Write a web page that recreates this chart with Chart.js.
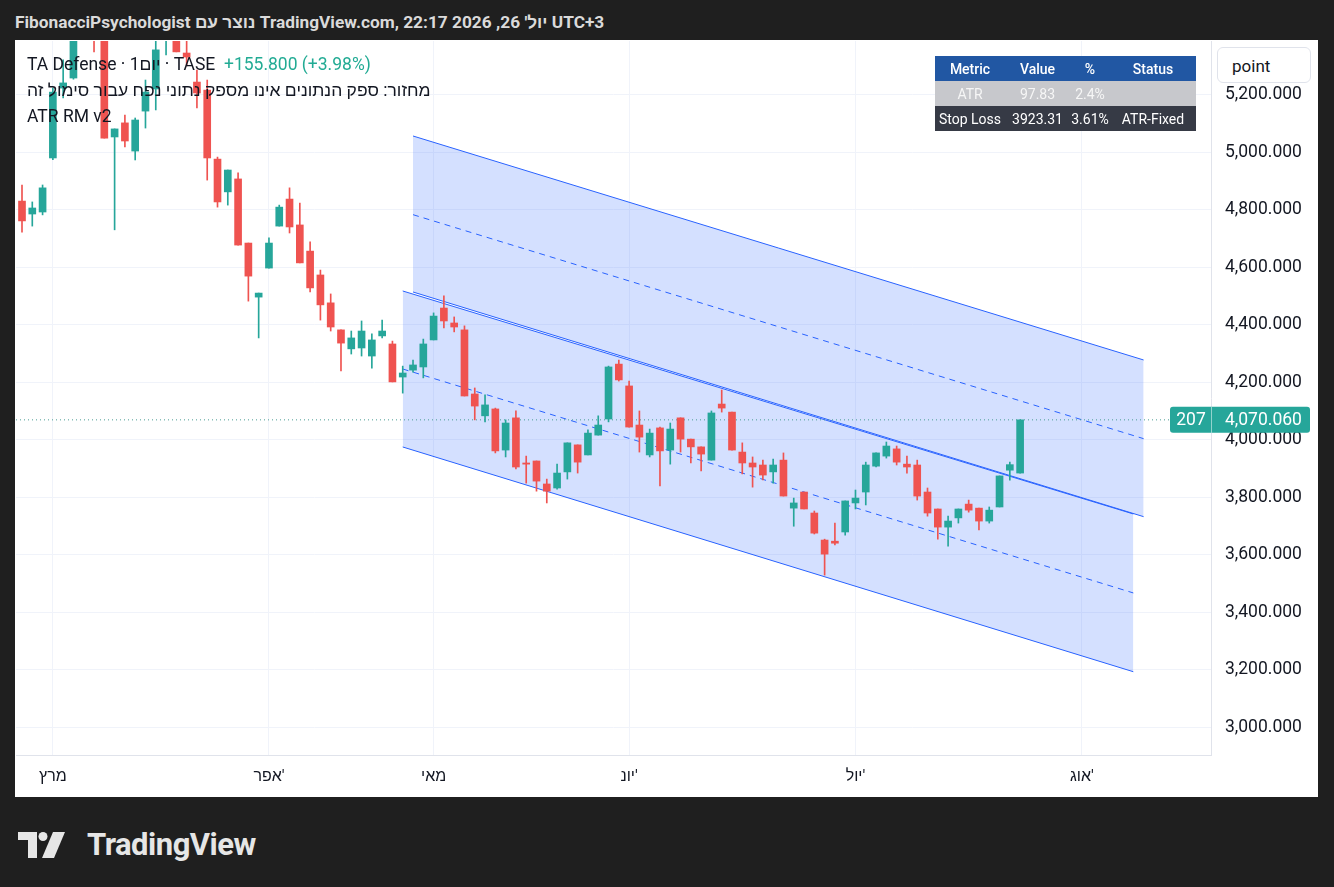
<!DOCTYPE html>
<html lang="he">
<head>
<meta charset="utf-8">
<script src="https://cdn.jsdelivr.net/npm/chart.js@4.4.1/dist/chart.umd.min.js"></script>
<style>
  body { margin: 0; width: 1334px; height: 887px; overflow: hidden; background: #1f1f1f;
         font-family: Roboto, "Liberation Sans", "DejaVu Sans", sans-serif; }
  #header { position: absolute; left: 15px; top: 10px; line-height: 24px; color: #dadada;
            font-size: 17.3px; font-weight: bold; white-space: nowrap; direction: ltr; }
  #panel { position: absolute; left: 15px; top: 40px; width: 1303px; height: 757px; background: #fff; }
  #chart { position: absolute; left: 0; top: 0; }
  .lg { position: absolute; left: 12px; line-height: 24px; font-size: 17.5px; color: #131722;
        white-space: nowrap; direction: ltr; }
  #tbl { position: absolute; left: 920px; top: 16px; border-collapse: collapse; table-layout: fixed;
         font-size: 14px; }
  #tbl td { height: 25px; padding: 0; text-align: center; white-space: nowrap; }
  #tbl tr.h td { background: #2157a3; color: #fff; font-weight: 500; }
  #tbl tr.a td { background: #c7c8cc; color: #f6f6f6; }
  #tbl tr.s td { background: #363a45; color: #fff; }
  #point { position: absolute; left: 1202px; top: 7px; width: 94px; height: 36px; line-height: 36px;
           border: 1px solid #e0e3eb; border-radius: 6px; background: #fff; font-size: 17px;
           color: #131722; padding-left: 14px; box-sizing: border-box; }
  #wm { position: absolute; left: 18px; top: 826px; display: flex; align-items: center; gap: 22px; }
  #wm span { font-size: 31px; font-weight: bold; color: #e6e6e6; letter-spacing: -0.5px; }
</style>
</head>
<body>
<div id="header">FibonacciPsychologist נוצר עם TradingView.com, יול' 26, 2026 22:17 UTC+3</div>
<div id="panel">
  <canvas id="chart" width="1303" height="757"></canvas>
  <div class="lg" style="top:12px">TA Defense · 1יום · TASE&nbsp;&nbsp;<span style="color:#22ab94">+155.800 (+3.98%)</span></div>
  <div class="lg" style="top:38px">מחזור: ספק הנתונים אינו מספק נתוני נפח עבור סימול זה</div>
  <div class="lg" style="top:64px">ATR RM v2</div>
  <table id="tbl">
    <colgroup><col style="width:70px"><col style="width:65px"><col style="width:40px"><col style="width:86px"></colgroup>
    <tr class="h"><td>Metric</td><td>Value</td><td>%</td><td>Status</td></tr>
    <tr class="a"><td>ATR</td><td>97.83</td><td>2.4%</td><td></td></tr>
    <tr class="s"><td>Stop Loss</td><td>3923.31</td><td>3.61%</td><td>ATR-Fixed</td></tr>
  </table>
  <div id="point">point</div>
</div>
<div id="wm">
  <svg width="47" height="26" viewBox="0 0 47 26">
    <path d="M0 0H19V26H10V8H0Z" fill="#e6e6e6"/>
    <circle cx="25" cy="4.5" r="4.5" fill="#e6e6e6"/>
    <path d="M35 0H47L36 26H24Z" fill="#e6e6e6"/>
  </svg>
  <span>TradingView</span>
</div>
<script>
// daily candles, one per trading day (index 0 = first visible bar)
const opens = [
  4831, 4786, 4793, 4981, 5224, 5259, 5420, 5470, 5420, 5054,
  5103, 5005, 5144, 5221, 5400, 5420, 5346, 5245, 5217, 4977,
  4863, 4908, 4685, 4497, 4598, 4744, 4838, 4748, 4657, 4574,
  4477, 4383, 4317, 4320, 4292, 4362, 4334, 4219, 4243, 4254,
  4348, 4459, 4407, 4383, 4160, 4084, 4108, 3965, 4077, 3920,
  3927, 3847, 3833, 3889, 3983, 3948, 4017, 4073, 4264, 4188,
  4052, 3948, 4042, 3965, 4077, 4003, 3976, 3930, 4125, 4097,
  3958, 3920, 3913, 3889, 3930, 3763, 3819, 3746, 3652, 3648,
  3680, 3781, 3819, 3909, 3944, 3969, 3916, 3913, 3819, 3760,
  3697, 3729, 3777, 3763, 3718, 3767, 3895, 3885
];
const highs = [
  4887, 4828, 4887, 5224, 5322, 5440, 5500, 5490, 5440, 5082,
  5130, 5120, 5252, 5400, 5460, 5440, 5391, 5287, 5252, 4984,
  4939, 4929, 4685, 4511, 4703, 4817, 4877, 4824, 4689, 4591,
  4508, 4383, 4379, 4414, 4369, 4417, 4344, 4257, 4278, 4351,
  4442, 4501, 4428, 4397, 4181, 4157, 4111, 4070, 4101, 3944,
  3927, 3864, 3916, 3990, 3983, 4035, 4084, 4257, 4278, 4205,
  4101, 4038, 4045, 4059, 4077, 4003, 3976, 4101, 4174, 4097,
  3990, 3941, 3930, 3934, 3955, 3798, 3819, 3753, 3655, 3711,
  3788, 3826, 3923, 3955, 3993, 3979, 3944, 3930, 3833, 3760,
  3735, 3760, 3791, 3763, 3767, 3875, 3923, 4070.06
];
const lows = [
  4723, 4744, 4783, 4975, 5190, 5255, 5400, 5350, 5050, 4731,
  5019, 4974, 5085, 5148, 5339, 5350, 5301, 5155, 4904, 4810,
  4817, 4678, 4483, 4355, 4598, 4744, 4720, 4616, 4515, 4417,
  4379, 4240, 4299, 4292, 4250, 4355, 4202, 4163, 4236, 4216,
  4348, 4390, 4376, 4153, 4070, 4063, 3955, 3941, 3899, 3850,
  3822, 3781, 3829, 3864, 3885, 3948, 4017, 4063, 4205, 4045,
  3958, 3941, 3840, 3916, 3958, 3920, 3892, 3930, 4097, 3965,
  3882, 3836, 3861, 3850, 3805, 3700, 3760, 3673, 3530, 3635,
  3669, 3760, 3774, 3906, 3937, 3913, 3885, 3791, 3735, 3655,
  3631, 3711, 3749, 3687, 3711, 3767, 3860, 3885
];
const closes = [
  4762, 4807, 4877, 5210, 5242, 5420, 5480, 5410, 5050, 5082,
  5040, 5113, 5210, 5357, 5440, 5350, 5332, 5207, 4981, 4828,
  4939, 4678, 4570, 4511, 4685, 4810, 4741, 4616, 4529, 4470,
  4393, 4337, 4355, 4379, 4348, 4379, 4202, 4233, 4261, 4334,
  4431, 4414, 4393, 4153, 4118, 4122, 3962, 4059, 3906, 3916,
  3857, 3822, 3885, 3990, 3923, 4024, 4052, 4254, 4209, 4045,
  4010, 4024, 3962, 4038, 4003, 3976, 3951, 4094, 4111, 3965,
  3920, 3906, 3878, 3913, 3805, 3781, 3760, 3676, 3603, 3641,
  3788, 3798, 3913, 3955, 3979, 3923, 3906, 3805, 3746, 3697,
  3718, 3760, 3756, 3718, 3756, 3875, 3914.26, 4070.06
];

// month labels on the time axis (bar index of first session of the month)
const monthTickIdx = [3, 24, 40, 59, 81, 103];
const monthLabels = ['מרץ', "אפר'", 'מאי', "יונ'", "יול'", "אוג'"];
const yTicks = [3000, 3200, 3400, 3600, 3800, 4000, 4200, 4400, 4600, 4800, 5000, 5200];

// two parallel channels (anchor bar index -> price)
const chanAIdx = [38, 109];
const chanAUpper = [5057.4, 4278.3];
const chanAMid = [4783.7, 4004.6];
const chanALower = [4514.8, 3733.3];
const chanBIdx = [37, 108];
const chanBUpper = [4518.3, 3742.7];
const chanBMid = [4247.0, 3468.0];
const chanBLower = [3975.7, 3194.0];

const lastPrice = closes[closes.length - 1];
const lastTag = '207';

// visible range
const xMin = -0.583, xMax = 115.55;
const yMin = 2904.3, yMax = 5387.8;

const UP = '#26a69a', DOWN = '#ef5350', BLUE = '#2962ff';
const FONT = 'Roboto, "Liberation Sans", "DejaVu Sans", sans-serif';

const bars = closes.map((c, i) => i);
const candleColors = bars.map(i => closes[i] >= opens[i] ? UP : DOWN);

function chanLine(idxs, vals, dashed, fillTo) {
    return {
        type: 'line',
        data: idxs.map((x, k) => ({ x: x, y: vals[k] })),
        borderColor: BLUE,
        borderWidth: 1,
        borderDash: dashed ? [6, 5] : [],
        pointRadius: 0,
        tension: 0,
        fill: fillTo,
        backgroundColor: 'rgba(41, 98, 255, 0.2)',
        order: 5
    };
}

const priceLabel = {
    id: 'priceLabel',
    afterDraw(chart) {
        const { ctx, chartArea, scales } = chart;
        const py = scales.y.getPixelForValue(lastPrice);
        const left = chartArea.right - 41;
        ctx.save();
        ctx.fillStyle = UP;
        ctx.beginPath();
        ctx.roundRect(left, py - 13, 140, 26, 3);
        ctx.fill();
        ctx.strokeStyle = 'rgba(255,255,255,0.5)';
        ctx.lineWidth = 1;
        ctx.beginPath();
        ctx.moveTo(chartArea.right + 0.5, py - 13);
        ctx.lineTo(chartArea.right + 0.5, py + 13);
        ctx.stroke();
        ctx.fillStyle = '#fff';
        ctx.font = '17.5px ' + FONT;
        ctx.textBaseline = 'middle';
        ctx.textAlign = 'center';
        ctx.fillText(lastTag, chartArea.right - 20, py + 1);
        ctx.textAlign = 'left';
        ctx.fillText(lastPrice.toLocaleString('en-US', { minimumFractionDigits: 3, maximumFractionDigits: 3 }),
            chartArea.right + 14, py + 1);
        ctx.restore();
    }
};

new Chart(document.getElementById('chart'), {
    type: 'bar',
    data: {
        datasets: [
            chanLine(chanAIdx, chanAUpper, false, '+2'),
            chanLine(chanAIdx, chanAMid, true, false),
            chanLine(chanAIdx, chanALower, false, false),
            chanLine(chanBIdx, chanBUpper, false, '+2'),
            chanLine(chanBIdx, chanBMid, true, false),
            chanLine(chanBIdx, chanBLower, false, false),
            {
                type: 'line',
                data: [{ x: xMin, y: lastPrice }, { x: xMax, y: lastPrice }],
                borderColor: '#4a9d94',
                borderWidth: 1,
                borderDash: [1, 3],
                pointRadius: 0,
                fill: false,
                order: 4
            },
            {
                data: bars.map(i => ({ x: i, y: [lows[i], highs[i]] })),
                backgroundColor: candleColors,
                barThickness: 1,
                grouped: false,
                borderWidth: 0,
                order: 2
            },
            {
                data: bars.map(i => ({ x: i, y: [opens[i], closes[i]] })),
                backgroundColor: candleColors,
                barThickness: 7,
                minBarLength: 1,
                grouped: false,
                borderWidth: 0,
                order: 1
            }
        ]
    },
    options: {
        responsive: false,
        animation: false,
        layout: { padding: { left: 1, top: 1, right: 0, bottom: 0 } },
        plugins: { legend: { display: false }, tooltip: { enabled: false } },
        scales: {
            x: {
                type: 'linear',
                min: xMin,
                max: xMax,
                offset: false,
                afterBuildTicks: s => { s.ticks = monthTickIdx.map(v => ({ value: v })); },
                afterFit: s => { s.height = 42; s.paddingLeft = 0; s.paddingRight = 0; },
                grid: { color: '#f0f3fa', drawTicks: false, offset: false },
                border: { display: true, color: '#e0e3eb' },
                ticks: {
                    autoSkip: false, maxRotation: 0, padding: 12, color: '#131722',
                    font: { family: FONT, size: 16 },
                    callback: v => monthLabels[monthTickIdx.indexOf(v)]
                }
            },
            y: {
                type: 'linear',
                position: 'right',
                min: yMin,
                max: yMax,
                afterBuildTicks: s => { s.ticks = yTicks.map(v => ({ value: v })); },
                afterFit: s => { s.width = 107; s.paddingTop = 0; s.paddingBottom = 0; },
                grid: { color: '#f0f3fa', drawTicks: false },
                border: { display: true, color: '#e0e3eb' },
                ticks: {
                    padding: 14, color: '#131722',
                    font: { family: FONT, size: 17.5 },
                    callback: v => v.toLocaleString('en-US', { minimumFractionDigits: 3, maximumFractionDigits: 3 })
                }
            }
        }
    },
    plugins: [priceLabel]
});
</script>
</body>
</html>
